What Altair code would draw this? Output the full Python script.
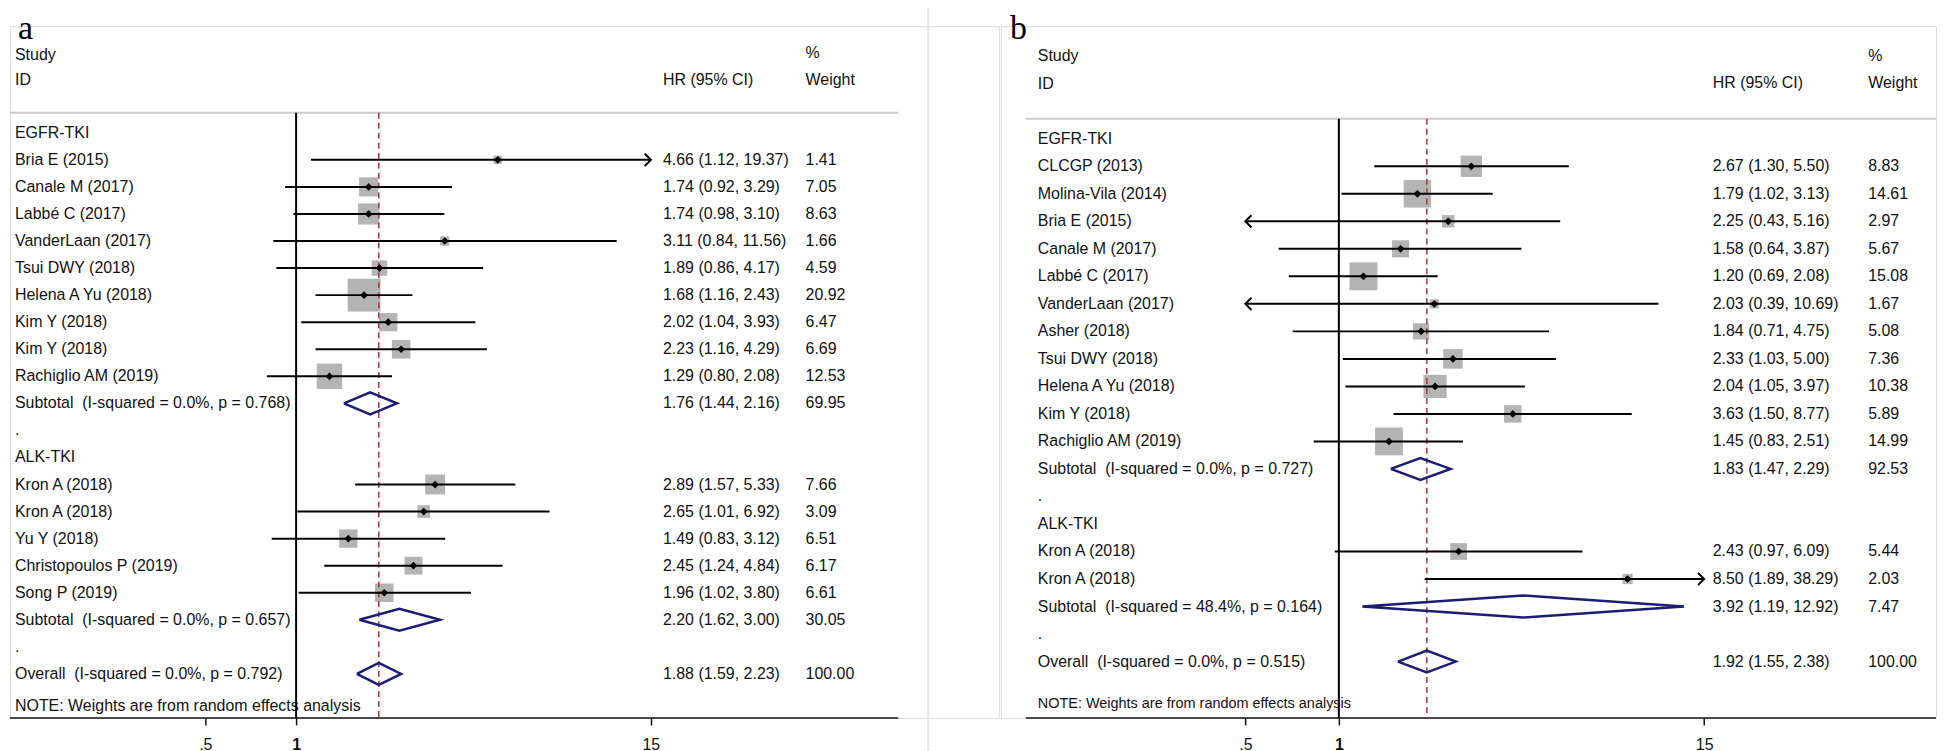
import math
import altair as alt
import pandas as pd

NB = "\u00a0"  # keeps the double space of the original labels

# ---------------- data: panel a ----------------
labels_a = ["EGFR-TKI", "Bria E (2015)", "Canale M (2017)", "Labbé C (2017)", "VanderLaan (2017)",
            "Tsui DWY (2018)", "Helena A Yu (2018)", "Kim Y (2018)", "Kim Y (2018)", "Rachiglio AM (2019)",
            "Subtotal" + NB + " (I-squared = 0.0%, p = 0.768)", ".", "ALK-TKI", "Kron A (2018)", "Kron A (2018)",
            "Yu Y (2018)", "Christopoulos P (2019)", "Song P (2019)",
            "Subtotal" + NB + " (I-squared = 0.0%, p = 0.657)", ".",
            "Overall" + NB + " (I-squared = 0.0%, p = 0.792)"]
kinds_a = ["group"] + ["study"] * 9 + ["summary", "blank", "group"] + ["study"] * 5 + ["summary", "blank", "summary"]
hr_a = [None, 4.66, 1.74, 1.74, 3.11, 1.89, 1.68, 2.02, 2.23, 1.29, 1.76, None, None,
        2.89, 2.65, 1.49, 2.45, 1.96, 2.20, None, 1.88]
lo_a = [None, 1.12, 0.92, 0.98, 0.84, 0.86, 1.16, 1.04, 1.16, 0.80, 1.44, None, None,
        1.57, 1.01, 0.83, 1.24, 1.02, 1.62, None, 1.59]
hi_a = [None, 19.37, 3.29, 3.10, 11.56, 4.17, 2.43, 3.93, 4.29, 2.08, 2.16, None, None,
        5.33, 6.92, 3.12, 4.84, 3.80, 3.00, None, 2.23]
wt_a = [None, 1.41, 7.05, 8.63, 1.66, 4.59, 20.92, 6.47, 6.69, 12.53, 69.95, None, None,
        7.66, 3.09, 6.51, 6.17, 6.61, 30.05, None, 100.00]

# ---------------- data: panel b ----------------
labels_b = ["EGFR-TKI", "CLCGP (2013)", "Molina-Vila (2014)", "Bria E (2015)", "Canale M (2017)",
            "Labbé C (2017)", "VanderLaan (2017)", "Asher (2018)", "Tsui DWY (2018)", "Helena A Yu (2018)",
            "Kim Y (2018)", "Rachiglio AM (2019)", "Subtotal" + NB + " (I-squared = 0.0%, p = 0.727)", ".",
            "ALK-TKI", "Kron A (2018)", "Kron A (2018)", "Subtotal" + NB + " (I-squared = 48.4%, p = 0.164)", ".",
            "Overall" + NB + " (I-squared = 0.0%, p = 0.515)"]
kinds_b = ["group"] + ["study"] * 11 + ["summary", "blank", "group"] + ["study"] * 2 + ["summary", "blank", "summary"]
hr_b = [None, 2.67, 1.79, 2.25, 1.58, 1.20, 2.03, 1.84, 2.33, 2.04, 3.63, 1.45, 1.83, None, None,
        2.43, 8.50, 3.92, None, 1.92]
lo_b = [None, 1.30, 1.02, 0.43, 0.64, 0.69, 0.39, 0.71, 1.03, 1.05, 1.50, 0.83, 1.47, None, None,
        0.97, 1.89, 1.19, None, 1.55]
hi_b = [None, 5.50, 3.13, 5.16, 3.87, 2.08, 10.69, 4.75, 5.00, 3.97, 8.77, 2.51, 2.29, None, None,
        6.09, 38.29, 12.92, None, 2.38]
wt_b = [None, 8.83, 14.61, 2.97, 5.67, 15.08, 1.67, 5.08, 7.36, 10.38, 5.89, 14.99, 92.53, None, None,
        5.44, 2.03, 7.47, None, 100.00]

# ---------------- axis ----------------
tick_values = [0.5, 1, 15]
tick_labels = [".5", "1", "15"]
AXIS_MIN, AXIS_MAX = 0.5, 15

FONT = "Liberation Sans"
SERIF = "Liberation Serif"
INK = "#111111"

GEOM_A = dict(width=992, height=694, x_one=287, ppl=131.4, row0=107, step=27.14,
              label_x=5, hr_x=655, wt_x=798, line_x0=0, line_x1=891, hdr_line_y=87,
              study_y=29, id_y=54, pct_y=27, col_hdr_y=54, note_y=682, note_size=16,
              area_per_w=52, letter="a", letter_x=8, letter_y=13, sep_x=921)
GEOM_B = dict(width=938, height=694, x_one=339, ppl=135.3, row0=113, step=27.6,
              label_x=37, hr_x=714, wt_x=870, line_x0=25, line_x1=938, hdr_line_y=93,
              study_y=30, id_y=58, pct_y=30, col_hdr_y=57, note_y=680, note_size=14.5,
              area_per_w=43, letter="b", letter_x=9, letter_y=13, sep_x=None)


def label_expr():
    expr = "''"
    for v, l in reversed(list(zip(tick_values, tick_labels))):
        expr = f"datum.value == {v} ? '{l}' : ({expr})"
    return expr


def one():
    return pd.DataFrame({"d": [0]})


def make_panel(labels, kinds, hr, lo, hi, wt, g):
    n = len(labels)
    df = pd.DataFrame({"row": list(range(n)), "label": labels, "kind": kinds,
                       "hr": hr, "lo": lo, "hi": hi, "w": wt})
    studies = df[df.kind == "study"].copy()
    studies["lo_c"] = studies["lo"].clip(lower=AXIS_MIN)
    studies["hi_c"] = studies["hi"].clip(upper=AXIS_MAX)
    vals = df[df.hr.notna()].copy()
    vals["hrtxt"] = [f"{h:.2f} ({l:.2f}, {u:.2f})" for h, l, u in zip(vals.hr, vals.lo, vals.hi)]
    vals["wtxt"] = [f"{w:.2f}" for w in vals.w]
    summ = df[df.kind == "summary"]
    hh = 11.0 / g["step"]
    dia = []
    for _, r in summ.iterrows():
        pts = [(r.lo, r.row), (r.hr, r.row - hh), (r.hi, r.row), (r.hr, r.row + hh), (r.lo, r.row)]
        for k, (xv, yv) in enumerate(pts):
            dia.append({"grp": int(r.row), "v": k, "dx": xv, "dy": yv})
    dia = pd.DataFrame(dia)
    right = studies[studies.hi > AXIS_MAX].assign(ax=AXIS_MAX)
    left = studies[studies.lo < AXIS_MIN].assign(ax=AXIS_MIN)
    overall = float(df[df.kind == "summary"].iloc[-1].hr)

    xscale = alt.Scale(type="log", nice=False, zero=False,
                       domain=[math.exp(-g["x_one"] / g["ppl"]),
                               math.exp((g["width"] - g["x_one"]) / g["ppl"])])
    yscale = alt.Scale(domain=[-g["row0"] / g["step"], (g["height"] - g["row0"]) / g["step"]],
                       reverse=True, nice=False, zero=False)
    xaxis = alt.Axis(values=tick_values, labelExpr=label_expr(), domain=False, grid=False,
                     tickColor=INK, tickWidth=1.5, tickSize=7, labelPadding=12,
                     labelFont=FONT, labelFontSize=16, labelColor=INK,
                     labelFontWeight={"condition": {"test": "datum.value == 1", "value": "bold"},
                                      "value": "normal"},
                     title=None)

    def X(field):
        return alt.X(field, type="quantitative", scale=xscale, axis=xaxis)

    def Y(field):
        return alt.Y(field, type="quantitative", scale=yscale, axis=None)

    layers = []
    if g["sep_x"] is not None:
        layers.append(alt.Chart(one()).mark_rule(color="#e6e6e6", strokeWidth=2).encode(
            x=alt.value(g["sep_x"]), y=alt.value(-30), y2=alt.value(g["height"] + 45)))
    # header line and axis line
    layers.append(alt.Chart(one()).mark_rule(color="#cccccc", strokeWidth=2).encode(
        x=alt.value(g["line_x0"]), x2=alt.value(g["line_x1"]), y=alt.value(g["hdr_line_y"])))
    layers.append(alt.Chart(one()).mark_rule(color=INK, strokeWidth=1.5).encode(
        x=alt.value(g["line_x0"]), x2=alt.value(g["line_x1"]), y=alt.value(g["height"])))
    # header texts
    for txt, xx, yy in [("Study", g["label_x"], g["study_y"]), ("ID", g["label_x"], g["id_y"]),
                        ("HR (95% CI)", g["hr_x"], g["col_hdr_y"]),
                        ("%", g["wt_x"], g["pct_y"]), ("Weight", g["wt_x"], g["col_hdr_y"])]:
        layers.append(alt.Chart(one()).mark_text(text=txt, font=FONT, fontSize=16, color=INK,
                                                 align="left", baseline="middle").encode(
            x=alt.value(xx), y=alt.value(yy)))
    layers.append(alt.Chart(one()).mark_text(text="NOTE: Weights are from random effects analysis",
                                             font=FONT, fontSize=g["note_size"], color=INK,
                                             align="left", baseline="middle").encode(
        x=alt.value(g["label_x"]), y=alt.value(g["note_y"])))
    layers.append(alt.Chart(one()).mark_text(text=g["letter"], font=SERIF, fontSize=34, color="#000",
                                             align="left", baseline="alphabetic").encode(
        x=alt.value(g["letter_x"]), y=alt.value(g["letter_y"])))
    # row texts
    layers.append(alt.Chart(df).mark_text(font=FONT, fontSize=16, color=INK, align="left",
                                          baseline="middle").encode(
        x=alt.value(g["label_x"]), y=Y("row"), text="label:N"))
    layers.append(alt.Chart(vals).mark_text(font=FONT, fontSize=16, color=INK, align="left",
                                            baseline="middle").encode(
        x=alt.value(g["hr_x"]), y=Y("row"), text="hrtxt:N"))
    layers.append(alt.Chart(vals).mark_text(font=FONT, fontSize=16, color=INK, align="left",
                                            baseline="middle").encode(
        x=alt.value(g["wt_x"]), y=Y("row"), text="wtxt:N"))
    # weight boxes
    layers.append(alt.Chart(studies).mark_square(color="#b4b4b4", filled=True, opacity=1).encode(
        x=X("hr"), y=Y("row"),
        size=alt.Size("w:Q", scale=alt.Scale(domain=[0, 25], range=[0, 25 * g["area_per_w"]]), legend=None)))
    # overall dashed line and no-effect line
    layers.append(alt.Chart(one()).mark_rule(color="#a8333f", strokeWidth=1.5, strokeDash=[6, 4]).encode(
        x=alt.X(datum=overall, type="quantitative", scale=xscale, axis=xaxis),
        y=alt.value(g["hdr_line_y"]), y2=alt.value(g["height"])))
    layers.append(alt.Chart(one()).mark_rule(color="#000", strokeWidth=2).encode(
        x=alt.X(datum=1, type="quantitative", scale=xscale, axis=xaxis),
        y=alt.value(g["hdr_line_y"]), y2=alt.value(g["height"])))
    # confidence intervals
    layers.append(alt.Chart(studies).mark_rule(color="#000", strokeWidth=2).encode(
        x=X("lo_c"), x2="hi_c:Q", y=Y("row")))
    layers.append(alt.Chart(studies).mark_point(shape="diamond", filled=True, color="#000",
                                                size=60, opacity=1).encode(x=X("hr"), y=Y("row")))
    if len(right):
        layers.append(alt.Chart(right).mark_point(shape="M-1,-1L0,0L-1,1", filled=False, color="#000",
                                                  strokeWidth=2, size=150, opacity=1).encode(
            x=X("ax"), y=Y("row")))
    if len(left):
        layers.append(alt.Chart(left).mark_point(shape="M1,-1L0,0L1,1", filled=False, color="#000",
                                                 strokeWidth=2, size=150, opacity=1).encode(
            x=X("ax"), y=Y("row")))
    # summary diamonds
    layers.append(alt.Chart(dia).mark_line(color="#1c1c72", strokeWidth=2.5, strokeJoin="miter").encode(
        x=X("dx"), y=Y("dy"), detail="grp:N", order="v:Q"))

    return alt.layer(*layers).properties(width=g["width"], height=g["height"])


pa = make_panel(labels_a, kinds_a, hr_a, lo_a, hi_a, wt_a, GEOM_A)
pb = make_panel(labels_b, kinds_b, hr_b, lo_b, hi_b, wt_b, GEOM_B)

chart = alt.hconcat(pa, pb, spacing=0).properties(
    padding={"left": 0, "top": -15, "right": 0, "bottom": 0}
).configure_view(stroke=None).configure(background="white")

chart.save("out.html", embed_options={"renderer": "svg", "actions": False})
